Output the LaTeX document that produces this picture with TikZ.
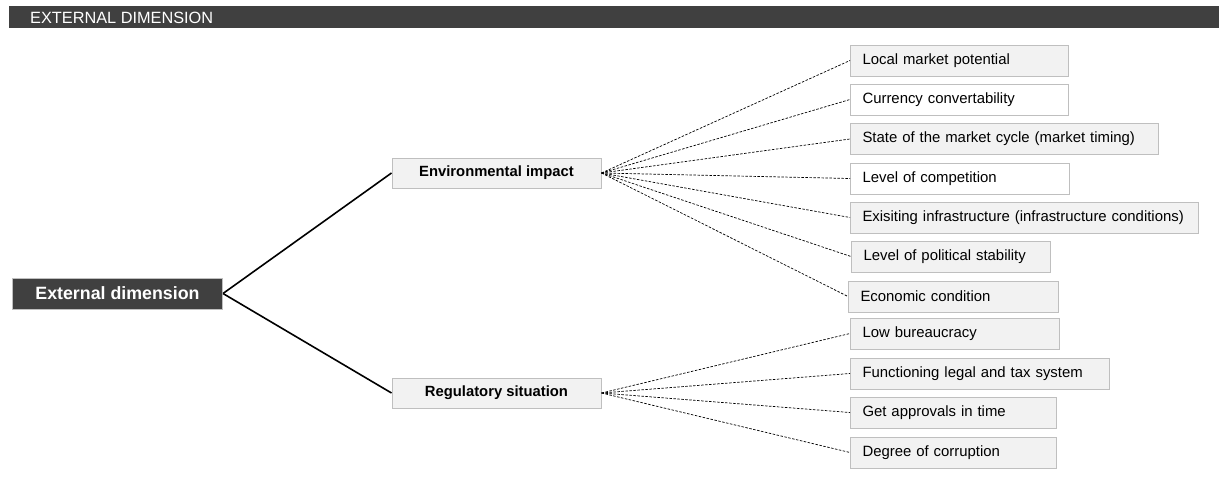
\documentclass[tikz,border=0pt]{standalone}
\usepackage{fontspec}
\setmainfont{Liberation Sans}
\definecolor{darkbar}{HTML}{404040}
\definecolor{lightfill}{HTML}{F2F2F2}
\definecolor{boxline}{HTML}{BFBFBF}
\begin{document}
\begin{tikzpicture}[x=1pt,y=-1pt,
  header/.style={fill=darkbar, draw=none, anchor=north west, inner sep=0pt},
  rootbox/.style={fill=darkbar, draw=boxline, line width=1pt, text=white,
    font=\fontsize{17.8}{20}\selectfont\bfseries, inner sep=0pt,
    minimum width=210pt, minimum height=31pt},
  midbox/.style={fill=lightfill, draw=boxline, line width=1pt,
    font=\fontsize{14.8}{17}\selectfont\bfseries, inner sep=0pt,
    minimum width=209pt, minimum height=30pt},
  leaf/.style={draw=boxline, line width=1pt, anchor=west, align=left,
    font=\fontsize{14.9}{17}\selectfont, inner xsep=12pt, inner ysep=0pt,
    minimum height=31pt, text width=#1-24pt},
  grayleaf/.style={leaf=#1, fill=lightfill},
  whiteleaf/.style={leaf=#1, fill=white},
  branch/.style={line width=1.6pt, black},
  twig/.style={line width=0.7pt, black, dash pattern=on 2.5pt off 1.5pt}]
\useasboundingbox (0,0) rectangle (1224,479);

% title strip
\node[header, minimum width=1210pt, minimum height=22pt] (bar) at (9,6) {};
\node[anchor=west, text=white, font=\fontsize{16.3}{18}\selectfont, inner sep=0pt]
  (bartitle) at (30,17.5) {EXTERNAL DIMENSION};

% tree
\node[rootbox] (root) at (117.5,293.5) {External dimension};
\node[midbox] (env) at (496.5,173) {Environmental impact};
\node[midbox] (reg) at (496.5,393) {Regulatory situation};

\node[grayleaf=218pt]  (l1)  at (850,60.5)  {Local market potential};
\node[whiteleaf=218pt] (l2)  at (850,99.5)  {Currency convertability};
\node[grayleaf=308pt]  (l3)  at (850,139)   {State of the market cycle (market timing)};
\node[whiteleaf=219pt] (l4)  at (850,178.5) {Level of competition};
\node[grayleaf=348pt]  (l5)  at (850,217.5) {Exisiting infrastructure (infrastructure conditions)};
\node[grayleaf=199pt]  (l6)  at (851,256.5) {Level of political stability};
\node[grayleaf=210pt]  (l7)  at (848,296.5) {Economic condition};
\node[grayleaf=209pt]  (r1)  at (850,333.5) {Low bureaucracy};
\node[grayleaf=259pt]  (r2)  at (850,373.5) {Functioning legal and tax system};
\node[grayleaf=206pt]  (r3)  at (850,412.5) {Get approvals in time};
\node[grayleaf=206pt]  (r4)  at (850,452.5) {Degree of corruption};

\draw[branch] (root.east) -- (env.west);
\draw[branch] (root.east) -- (reg.west);

\foreach \n in {l1,l2,l3,l4,l5,l6,l7}
  \draw[twig] (env.east) -- (\n.west);
\foreach \n in {r1,r2,r3,r4}
  \draw[twig] (reg.east) -- (\n.west);
\end{tikzpicture}
\end{document}
